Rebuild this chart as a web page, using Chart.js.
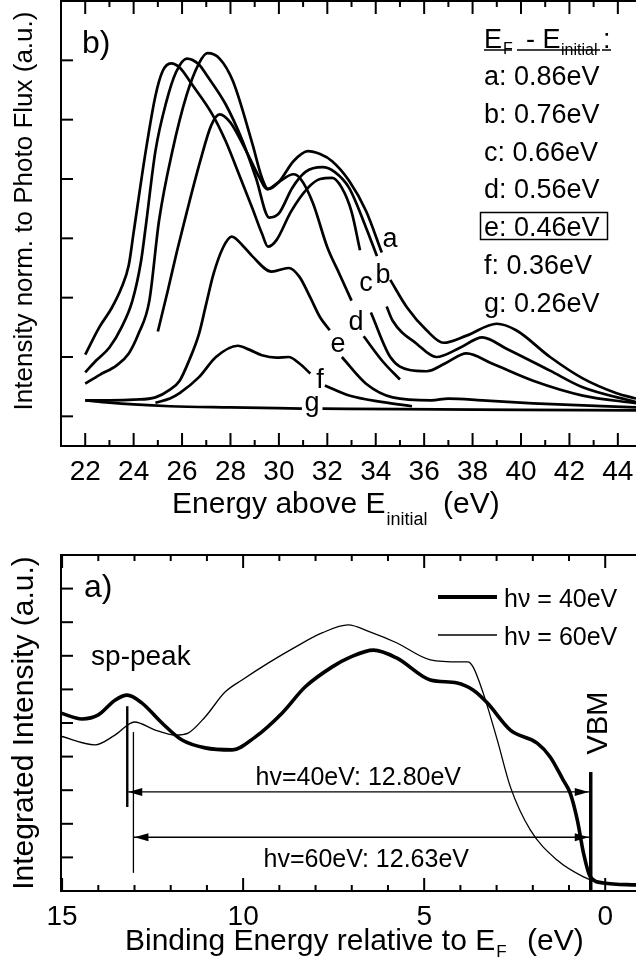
<!DOCTYPE html>
<html>
<head>
<meta charset="utf-8">
<script src="https://cdn.jsdelivr.net/npm/chart.js@4.4.0/dist/chart.umd.min.js"></script>
<style>
  html, body { margin: 0; padding: 0; background: #fff; overflow: hidden; }
  #wrap { position: relative; width: 636px; height: 962px; }
  canvas { position: absolute; left: 0; }
  #topChart { top: 0; }
  #bottomChart { top: 530px; }
</style>
</head>
<body>
<div id="wrap">
  <canvas id="topChart" width="636" height="530"></canvas>
  <canvas id="bottomChart" width="636" height="432"></canvas>
</div>
<script>
const FONT = "'Liberation Sans', Arial, Helvetica, sans-serif";

// ---- panel b): energy above E_initial (eV) / intensity (a.u.), null = gap for label
const eA = [22, 22.6, 23.3, 23.8, 24.2, 24.65, 25.05, 25.6, 26.2, 26.7, 27.05, 27.55, 28.1, 28.9, 29.3, 29.55, 30.0, 30.6, 31.2, 31.7, 32.2, 32.9, 33.6, 34.25, 34.4, 34.6, 35.3, 36.1, 36.8, 37.75, 39.0, 39.8, 41.2, 42.55, 43.95, 44.75];
const iA = [0.55, 0.70, 0.86, 1.06, 1.39, 1.95, 3.3, 4.47, 5.43, 5.95, 6.12, 6.03, 5.65, 4.6, 4.02, 3.83, 3.95, 4.3, 4.47, 4.42, 4.3, 3.97, 3.46, 2.76, null, 2.3, 1.83, 1.45, 1.24, 1.36, 1.56, 1.45, 1.0, 0.64, 0.39, 0.3];
const eB = [22, 22.45, 23.0, 23.5, 23.95, 24.3, 24.5, 24.9, 25.35, 25.75, 26.2, 26.7, 27.0, 27.8, 28.5, 29.05, 29.6, 30.0, 30.55, 31.1, 31.8, 32.3, 32.9, 33.6, 34.05, 34.25, 34.45, 34.7, 35.7, 36.5, 37.5, 38.4, 39.4, 41.2, 42.55, 44.75];
const iB = [0.74, 0.94, 1.16, 1.5, 1.95, 2.6, 3.2, 4.47, 5.3, 5.8, 6.03, 5.93, 5.76, 5.26, 4.64, 4.02, 3.35, 3.42, 3.85, 4.12, 4.2, 4.12, 3.85, 3.18, 2.7, null, 1.85, 1.61, 1.22, 1.0, 1.16, 1.33, 1.14, 0.77, 0.49, 0.24];
const eC = [22, 22.58, 23.1, 23.5, 23.8, 24.0, 24.5, 24.9, 25.2, 25.55, 25.9, 26.4, 27.25, 27.8, 28.35, 28.9, 29.3, 29.55, 29.9, 30.5, 31.2, 31.7, 32.2, 32.6, 33.0, 33.35, 33.55, 33.8, 34.6, 35.4, 36.1, 36.9, 37.75, 38.8, 40.5, 42.55, 44.75];
const iC = [1.04, 1.5, 1.83, 2.17, 2.55, 3.1, 4.47, 5.4, 5.82, 5.95, 5.88, 5.6, 5.09, 4.64, 4.08, 3.51, 3.08, 2.86, 2.97, 3.45, 3.85, 4.0, 4.02, 3.85, 3.45, 2.8, null, 1.75, 1.0, 0.78, 0.76, 0.9, 1.06, 0.89, 0.6, 0.35, 0.22];
const eD = [25.0, 25.4, 25.8, 26.2, 26.75, 27.2, 27.55, 28.0, 28.65, 29.2, 29.5, 30.0, 30.6, 30.9, 31.4, 32.0, 32.5, 33.0, 33.25, 33.5, 34.3, 35.0];
const iD = [1.43, 2.1, 2.8, 3.45, 4.3, 4.9, 5.09, 4.95, 4.47, 4.02, 3.83, 3.95, 4.08, 4.0, 3.6, 2.85, 2.4, 1.95, null, 1.35, 0.92, 0.62];
const eE = [22, 23, 24, 24.9, 25.5, 25.9, 26.3, 26.7, 27.0, 27.3, 27.7, 28.05, 28.5, 28.9, 29.7, 30.4, 30.85, 31.3, 31.7, 32.1, 32.35, 32.6, 33.6, 34.7, 36.3, 37.0, 38.4, 40.5, 44.75];
const iE = [0.27, 0.27, 0.28, 0.32, 0.45, 0.6, 0.95, 1.39, 1.9, 2.4, 2.85, 3.03, 2.88, 2.7, 2.44, 2.5, 2.35, 2.0, 1.67, 1.45, null, 1.0, 0.55, 0.32, 0.27, 0.3, 0.27, 0.22, 0.15];
const eF = [24.9, 25.5, 25.9, 26.7, 27.4, 28.3, 28.8, 29.3, 29.9, 30.4, 30.85, 31.3, 31.6, 31.9, 32.9, 34.3, 35.5];
const iF = [0.23, 0.3, 0.39, 0.66, 1.0, 1.19, 1.12, 1.03, 0.99, 1.0, 0.89, 0.72, null, 0.52, 0.35, 0.24, 0.17];
const eG = [22, 23, 24, 25.5, 28, 30.95, 31.35, 31.8, 35, 40, 44.75];
const iG = [0.27, 0.23, 0.2, 0.17, 0.15, 0.13, null, 0.13, 0.12, 0.11, 0.1];

const topTicks = [22, 24, 26, 28, 30, 32, 34, 36, 38, 40, 42, 44];
const legendLines = ['a: 0.86eV', 'b: 0.76eV', 'c: 0.66eV', 'd: 0.56eV', 'e: 0.46eV', 'f: 0.36eV', 'g: 0.26eV'];
// curve letters: [letter, E, intensity of baseline]
const curveLabels = [['a', 34.59, 2.85], ['b', 34.3, 2.24], ['c', 33.6, 2.12], ['d', 33.18, 1.45], ['e', 32.44, 1.08], ['f', 31.7, 0.48], ['g', 31.37, 0.09]];

// ---- panel a): binding energy (eV) / integrated intensity (a.u.)
const beThick = [15.05, 14.45, 14.0, 13.54, 13.2, 12.8, 12.24, 11.7, 11.05, 10.3, 9.67, 8.92, 8.29, 7.54, 7.04, 6.4, 5.75, 4.83, 4.09, 3.65, 3.26, 2.62, 1.88, 1.52, 1.16, 0.97, 0.77, 0.6, 0.41, 0.05, -0.9];
const hv40 = [5.3, 5.12, 5.24, 5.68, 5.83, 5.6, 5.0, 4.5, 4.26, 4.2, 4.58, 5.3, 6.07, 6.67, 6.96, 7.17, 6.93, 6.28, 6.19, 5.98, 5.6, 4.79, 4.4, 3.99, 3.3, 2.92, 2.11, 1.13, 0.42, 0.24, 0.18];
const beThin = [15.05, 14.09, 13.54, 13.0, 12.43, 11.88, 11.52, 11.05, 10.5, 10.03, 9.3, 8.56, 7.82, 7.1, 6.5, 5.75, 4.83, 4.0, 3.8, 3.65, 3.37, 2.98, 2.62, 2.07, 1.33, 0.6, 0.22, -0.9];
const hv60 = [4.61, 4.35, 4.64, 5.03, 4.79, 4.64, 4.7, 5.18, 5.92, 6.28, 6.79, 7.26, 7.68, 7.92, 7.71, 7.38, 6.88, 6.82, 6.82, 6.67, 5.89, 4.49, 3.1, 1.82, 0.92, 0.42, 0.27, 0.18];
const bottomTicks = [15, 10, 5, 0];

const vbm = 0.4, sp40 = 13.2, sp60 = 13.03;
const vbmSpan = [0, 3.54], sp40Span = [2.5, 5.5], sp60Span = [0.54, 4.73];
const arrowY40 = 2.95, arrowY60 = 1.6;

function pts(xs, ys) {
  return xs.map((x, i) => ({ x: x, y: ys[i] }));
}

function curve(xs, ys, width) {
  return {
    data: pts(xs, ys),
    borderColor: '#000',
    borderWidth: width,
    pointRadius: 0,
    cubicInterpolationMode: 'monotone',
    spanGaps: false,
    fill: false
  };
}

function straight(points, width) {
  return { data: points, borderColor: '#000', borderWidth: width, pointRadius: 0, tension: 0, fill: false };
}

function font(size) {
  return size + 'px ' + FONT;
}

function line(ctx, x1, y1, x2, y2) {
  ctx.beginPath();
  ctx.moveTo(x1, y1);
  ctx.lineTo(x2, y2);
  ctx.stroke();
}

function arrowHead(ctx, tipX, y, dir) {
  ctx.beginPath();
  ctx.moveTo(tipX, y);
  ctx.lineTo(tipX - dir * 14, y - 4);
  ctx.lineTo(tipX - dir * 14, y + 4);
  ctx.closePath();
  ctx.fill();
}

// main text, then a subscript right after it; returns end of subscript
function withSub(ctx, main, sub, x, y, size, subSize, drop) {
  ctx.font = font(size);
  ctx.fillText(main, x, y);
  const sx = x + ctx.measureText(main).width + 1;
  ctx.font = font(subSize);
  ctx.fillText(sub, sx, y + drop);
  return sx + ctx.measureText(sub).width;
}

const baseOptions = {
  responsive: false,
  animation: false,
  plugins: { legend: { display: false }, tooltip: { enabled: false } }
};

// =========================================================================
// Panel b)
// =========================================================================
const topDecor = {
  id: 'topDecor',
  afterDatasetsDraw(chart) {
    const { ctx, chartArea: a, scales: { x, y } } = chart;
    ctx.save();
    ctx.strokeStyle = '#000';
    ctx.fillStyle = '#000';
    ctx.lineWidth = 2;

    // frame (right edge is outside the picture)
    line(ctx, a.left, a.top - 1, a.left, a.bottom + 1);
    line(ctx, a.left, a.top, a.right, a.top);
    line(ctx, a.left - 1, a.bottom, a.right, a.bottom);

    // inward ticks
    for (let e = 22; e <= 44; e++) {
      const px = x.getPixelForValue(e);
      const len = e % 2 === 0 ? 13 : 6;
      line(ctx, px, a.bottom, px, a.bottom - len);
      line(ctx, px, a.top, px, a.top + len);
    }
    for (let v = 0; v <= 6; v++) {
      const py = y.getPixelForValue(v);
      line(ctx, a.left, py, a.left + 12, py);
    }

    // tick labels
    ctx.font = font(28);
    ctx.textAlign = 'center';
    ctx.textBaseline = 'alphabetic';
    topTicks.forEach(t => ctx.fillText(String(t), x.getPixelForValue(t), a.bottom + 34));

    // curve letters
    ctx.font = font(27);
    curveLabels.forEach(l => ctx.fillText(l[0], x.getPixelForValue(l[1]), y.getPixelForValue(l[2])));

    // axis titles
    ctx.textAlign = 'left';
    withSub(ctx, 'Energy above E', 'initial', 172, 513, 30, 18, 12);
    ctx.font = font(30);
    ctx.fillText('(eV)', 443, 513);

    ctx.save();
    ctx.translate(32, 211);
    ctx.rotate(-Math.PI / 2);
    ctx.textAlign = 'center';
    ctx.font = font(26);
    ctx.fillText('Intensity norm. to Photo Flux (a.u.)', 0, 0);
    ctx.restore();

    // panel letter
    ctx.font = font(32);
    ctx.fillText('b)', 82, 53);

    // legend block
    ctx.font = font(27);
    ctx.fillText('E', 484, 48);
    ctx.font = font(16);
    ctx.fillText('F', 503, 54);
    ctx.font = font(27);
    ctx.fillText('- E', 526, 48);
    ctx.font = font(16);
    ctx.fillText('initial', 561, 55);
    ctx.font = font(27);
    ctx.fillText(':', 603, 48);
    ctx.lineWidth = 1.5;
    line(ctx, 484, 50, 512, 50);
    line(ctx, 517, 50, 600, 50);
    line(ctx, 602, 50, 611, 50);

    ctx.font = font(27);
    legendLines.forEach((s, i) => ctx.fillText(s, 484, 85 + i * 37.8));
    ctx.lineWidth = 1.5;
    ctx.strokeRect(480.5, 212.5, 127, 27);

    ctx.restore();
  }
};

new Chart(document.getElementById('topChart'), {
  type: 'line',
  data: {
    datasets: [
      curve(eA, iA, 2.7),
      curve(eB, iB, 2.7),
      curve(eC, iC, 2.7),
      curve(eD, iD, 2.7),
      curve(eE, iE, 2.7),
      curve(eF, iF, 2.7),
      curve(eG, iG, 2.7)
    ]
  },
  options: Object.assign({}, baseOptions, {
    layout: { padding: { left: 61, right: 0, top: 1, bottom: 84 } },
    scales: {
      x: { type: 'linear', min: 21, max: 44.75, display: false },
      y: { type: 'linear', min: -0.5, max: 7, display: false }
    }
  }),
  plugins: [topDecor]
});

// =========================================================================
// Panel a)
// =========================================================================
const bottomDecor = {
  id: 'bottomDecor',
  afterDatasetsDraw(chart) {
    const { ctx, chartArea: a, scales: { x, y } } = chart;
    ctx.save();
    ctx.strokeStyle = '#000';
    ctx.fillStyle = '#000';
    ctx.lineWidth = 2;

    line(ctx, a.left, a.top - 1, a.left, a.bottom + 1);
    line(ctx, a.left, a.top, a.right, a.top);
    line(ctx, a.left - 1, a.bottom, a.right, a.bottom);

    for (let b = 0; b <= 15; b++) {
      const px = x.getPixelForValue(b);
      const len = b % 5 === 0 ? 13 : 6;
      line(ctx, px, a.bottom, px, a.bottom - len);
      line(ctx, px, a.top, px, a.top + len);
    }
    for (let v = 1; v <= 9; v++) {
      const py = y.getPixelForValue(v);
      line(ctx, a.left, py, a.left + 12, py);
    }

    ctx.font = font(28);
    ctx.textAlign = 'center';
    ctx.textBaseline = 'alphabetic';
    bottomTicks.forEach(t => ctx.fillText(String(t), x.getPixelForValue(t), a.bottom + 34));

    // arrow heads at both ends of the two distance arrows
    [[sp40, arrowY40], [sp60, arrowY60]].forEach(r => {
      const py = y.getPixelForValue(r[1]);
      arrowHead(ctx, x.getPixelForValue(r[0]) + 1, py, -1);
      arrowHead(ctx, x.getPixelForValue(vbm) - 2, py, 1);
    });

    // annotations
    ctx.font = font(25);
    ctx.fillText('hv=40eV: 12.80eV', x.getPixelForValue(6.82), y.getPixelForValue(3.15));
    ctx.fillText('hv=60eV: 12.63eV', x.getPixelForValue(6.6), y.getPixelForValue(0.71));
    ctx.textAlign = 'left';
    ctx.font = font(28);
    ctx.fillText('sp-peak', x.getPixelForValue(14.2), y.getPixelForValue(6.73));

    ctx.save();
    ctx.translate(x.getPixelForValue(-0.05), y.getPixelForValue(5.0));
    ctx.rotate(-Math.PI / 2);
    ctx.textAlign = 'center';
    ctx.font = font(29);
    ctx.fillText('VBM', 0, 0);
    ctx.restore();

    // axis titles
    ctx.textAlign = 'left';
    const subEnd = withSub(ctx, 'Binding Energy relative to E', 'F', 125, 420, 30, 17, 7);
    ctx.font = font(30);
    ctx.fillText('(eV)', Math.max(527, subEnd + 16), 420);

    ctx.save();
    ctx.translate(33, 193);
    ctx.rotate(-Math.PI / 2);
    ctx.textAlign = 'center';
    ctx.font = font(30);
    ctx.fillText('Integrated Intensity (a.u.)', 0, 0);
    ctx.restore();

    // panel letter
    ctx.font = font(32);
    ctx.fillText('a)', 84, 67);

    // legend
    ctx.lineWidth = 4;
    line(ctx, 438, 67, 497, 67);
    ctx.lineWidth = 1.3;
    line(ctx, 438, 105, 497, 105);
    ctx.font = font(25);
    ctx.fillText('h\u03bd = 40eV', 504, 77);
    ctx.fillText('h\u03bd = 60eV', 504, 115);

    ctx.restore();
  }
};

new Chart(document.getElementById('bottomChart'), {
  type: 'line',
  data: {
    datasets: [
      curve(beThick, hv40, 3.6),
      curve(beThin, hv60, 1.3),
      straight([{ x: vbm, y: vbmSpan[0] }, { x: vbm, y: vbmSpan[1] }], 3.5),
      straight([{ x: sp40, y: sp40Span[0] }, { x: sp40, y: sp40Span[1] }], 2.4),
      straight([{ x: sp60, y: sp60Span[0] }, { x: sp60, y: sp60Span[1] }], 1.3),
      straight([{ x: sp40, y: arrowY40 }, { x: vbm, y: arrowY40 }], 1.3),
      straight([{ x: sp60, y: arrowY60 }, { x: vbm, y: arrowY60 }], 1.3)
    ]
  },
  options: Object.assign({}, baseOptions, {
    layout: { padding: { left: 61, right: 0, top: 25, bottom: 71 } },
    scales: {
      x: { type: 'linear', min: -0.85, max: 15.03, reverse: true, display: false },
      y: { type: 'linear', min: 0, max: 10, display: false }
    }
  }),
  plugins: [bottomDecor]
});
</script>
</body>
</html>
